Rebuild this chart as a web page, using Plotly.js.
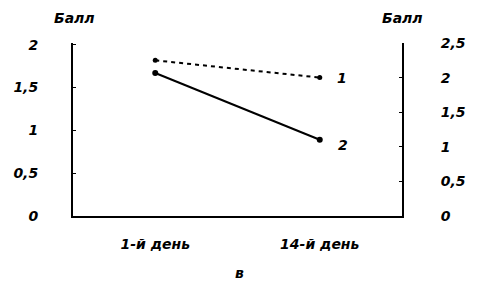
<!DOCTYPE html>
<html><head><meta charset="utf-8">
<script src="https://cdn.plot.ly/plotly-3.0.1.min.js"></script>
<style>body{margin:0;background:#fff}#c{width:478px;height:300px}</style>
</head><body><div id="c"></div>
<script>
const categories = ['1-й день', '14-й день'];
const series1 = [2.25, 2.0];   // dotted, right axis
const series2 = [1.67, 0.89];  // solid, left axis
const leftTicks = [0, 0.5, 1, 1.5, 2];
const rightTicks = [0, 0.5, 1, 1.5, 2, 2.5];
const seriesLabels = ['1', '2'];

const F = {family: 'DejaVu Sans, sans-serif', size: 14, color: '#000', weight: 'bold', style: 'italic'};

const traces = [
  {x: categories, y: series1, yaxis: 'y2', mode: 'lines+markers', line: {color: '#000', width: 2, dash: '4px,4px'}, marker: {color: '#000', size: 5}},
  {x: categories, y: series2, yaxis: 'y', mode: 'lines+markers', line: {color: '#000', width: 2}, marker: {color: '#000', size: 6}}
];

const layout = {
  width: 478, height: 300,
  margin: {l: 73, r: 76, t: 43, b: 84},
  paper_bgcolor: '#fff', plot_bgcolor: '#fff',
  showlegend: false,
  separators: ', ',
  font: F,
  xaxis: {type: 'category', range: [-0.5, 1.5], showline: true, linecolor: '#000', linewidth: 2,
          showgrid: false, zeroline: false, ticks: '', tickfont: F, ticklabelstandoff: 14},
  yaxis: {range: [0, 2.02], tickvals: leftTicks, showline: true, linecolor: '#000', linewidth: 2,
          showgrid: false, zeroline: false, ticks: 'inside', ticklen: 3, tickcolor: '#000',
          tickfont: F, ticklabelstandoff: 30},
  yaxis2: {range: [0, 2.5], tickvals: rightTicks, overlaying: 'y', side: 'right', showline: true,
           linecolor: '#000', linewidth: 2, showgrid: false, zeroline: false, ticks: 'inside',
           ticklen: 3, tickcolor: '#000', tickfont: F, ticklabelstandoff: 34},
  annotations: [
    {xref: 'paper', yref: 'paper', x: 0.006, y: 1.145, text: 'Балл', showarrow: false, font: F, xanchor: 'center', yanchor: 'middle'},
    {xref: 'paper', yref: 'paper', x: 1.003, y: 1.145, text: 'Балл', showarrow: false, font: F, xanchor: 'center', yanchor: 'middle'},
    {xref: 'x', yref: 'y2', x: categories[1], y: series1[1], text: seriesLabels[0], showarrow: false, font: F, xshift: 22},
    {xref: 'x', yref: 'y', x: categories[1], y: series2[1], text: seriesLabels[1], showarrow: false, font: F, xshift: 23, yshift: -5},
    {xref: 'paper', yref: 'paper', x: 0.507, y: -0.33, text: 'в', showarrow: false, font: F, yanchor: 'middle'}
  ]
};
Plotly.newPlot('c', traces, layout, {displayModeBar: false, staticPlot: true});
</script></body></html>
